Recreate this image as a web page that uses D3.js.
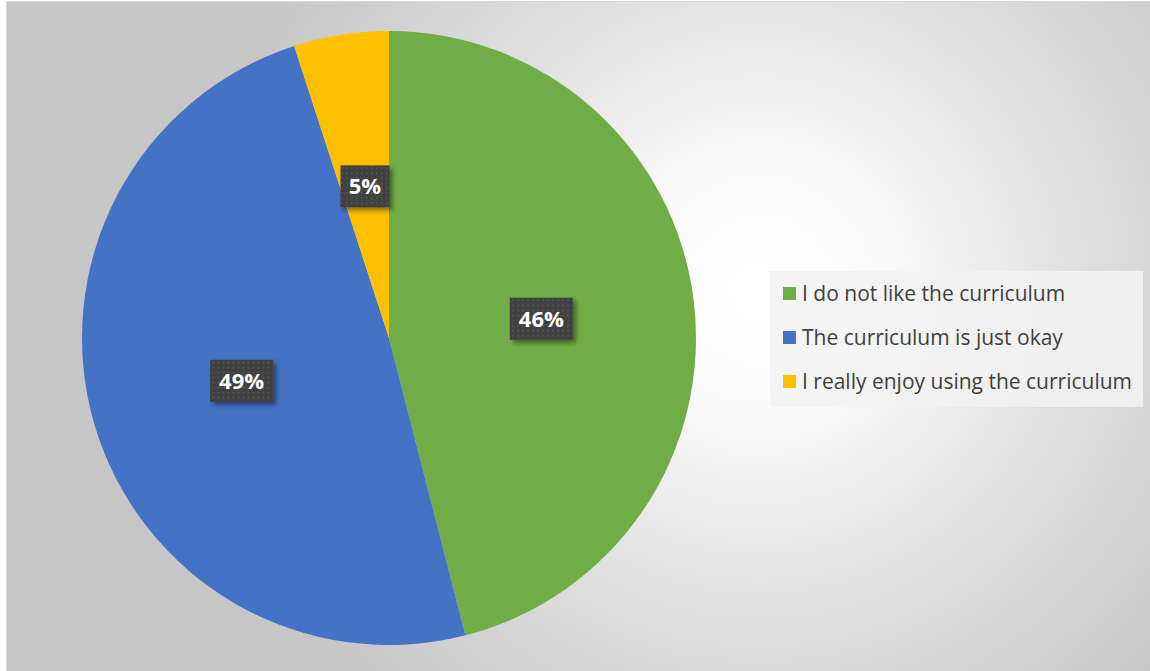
<!DOCTYPE html>
<html>
<head>
<meta charset="utf-8">
<script src="https://cdn.jsdelivr.net/npm/d3@7"></script>
<style>
  body { margin: 0; background: #fff; }
  svg { display: block; }
</style>
</head>
<body>
<svg id="chart" width="1150" height="671"></svg>
<script>
// chart data
var categories = ["I do not like the curriculum", "The curriculum is just okay", "I really enjoy using the curriculum"];
var values = [46, 49, 5];
var colors = ["#70AD47", "#4472C4", "#FFC000"];

var svg = d3.select("#chart");
var defs = svg.append("defs");

// radial background like the office preset
var grad = defs.append("radialGradient")
	.attr("id", "bg")
	.attr("gradientUnits", "userSpaceOnUse")
	.attr("cx", 760).attr("cy", 290).attr("r", 560);
grad.append("stop").attr("offset", "0").attr("stop-color", "#ffffff");
grad.append("stop").attr("offset", "0.2").attr("stop-color", "#fbfbfb");
grad.append("stop").attr("offset", "0.6").attr("stop-color", "#dedede");
grad.append("stop").attr("offset", "1").attr("stop-color", "#c6c6c6");

// dotted fill for the data labels
var pat = defs.append("pattern")
	.attr("id", "dots")
	.attr("patternUnits", "userSpaceOnUse")
	.attr("width", 5).attr("height", 5);
pat.append("rect").attr("width", 5).attr("height", 5).attr("fill", "#404040");
pat.append("rect").attr("x", 1).attr("y", 1).attr("width", 1.5).attr("height", 1.5).attr("fill", "#5c5c5c");

var shadow = defs.append("filter").attr("id", "shadow")
	.attr("x", "-30%").attr("y", "-30%").attr("width", "170%").attr("height", "170%");
shadow.append("feDropShadow")
	.attr("dx", 3).attr("dy", 3).attr("stdDeviation", 2.5)
	.attr("flood-color", "#000").attr("flood-opacity", 0.45);

svg.append("rect")
	.attr("x", 6.5).attr("y", 1.5)
	.attr("width", 1150).attr("height", 680)
	.attr("fill", "url(#bg)")
	.attr("stroke", "#d9d9d9");

// pie
var cx = 389, cy = 338, radius = 307;
var pie = d3.pie().sort(null).value(function(d) {return d;});
var arcs = pie(values);
var arc = d3.arc().innerRadius(0).outerRadius(radius);
var labelArc = d3.arc().innerRadius(radius * 0.5).outerRadius(radius * 0.5);

var g = svg.append("g").attr("transform", "translate(" + cx + "," + cy + ")");

g.selectAll("path.slice")
	.data(arcs)
	.enter().append("path")
	.attr("class", "slice")
	.attr("d", arc)
	.attr("fill", function(d, i) {return colors[i];});

// data labels
var lbl = g.selectAll("g.lbl")
	.data(arcs)
	.enter().append("g")
	.attr("class", "lbl")
	.attr("transform", function(d) {return "translate(" + labelArc.centroid(d) + ")";});

lbl.append("rect")
	.attr("x", function(d) {return d.data < 10 ? -24.5 : -31.5;})
	.attr("y", -21)
	.attr("width", function(d) {return d.data < 10 ? 49 : 63;})
	.attr("height", 42)
	.attr("fill", "url(#dots)")
	.attr("filter", "url(#shadow)");

lbl.append("text")
	.attr("text-anchor", "middle")
	.attr("dy", "0.36em")
	.style("font-family", "'Open Sans', sans-serif")
	.style("font-weight", "bold")
	.style("font-size", "22px")
	.style("fill", "#fff")
	.text(function(d) {return d.data + "%";});

// legend
var legend = svg.append("g");
legend.append("rect")
	.attr("x", 770).attr("y", 271)
	.attr("width", 373).attr("height", 136)
	.attr("fill", "#f2f2f2").attr("fill-opacity", 0.85);

var rowY = d3.scalePoint().domain(categories).range([294, 382]);

var item = legend.selectAll("g.item")
	.data(categories)
	.enter().append("g")
	.attr("class", "item")
	.attr("transform", function(d) {return "translate(783," + rowY(d) + ")";});

item.append("rect")
	.attr("x", 0).attr("y", -7)
	.attr("width", 13).attr("height", 13)
	.attr("fill", function(d, i) {return colors[i];});

item.append("text")
	.attr("x", 19)
	.attr("dy", "0.35em")
	.style("font-family", "'Open Sans', sans-serif")
	.style("font-size", "21px")
	.style("fill", "#404040")
	.text(function(d) {return d;});
</script>
</body>
</html>
